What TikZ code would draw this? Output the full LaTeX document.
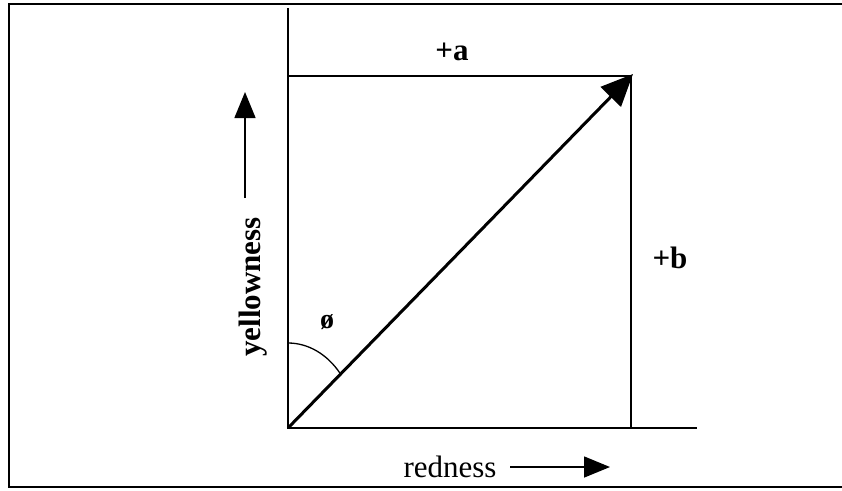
\documentclass[tikz,border=0pt]{standalone}
\usepackage{fontspec}
\setmainfont{Liberation Serif}
\usetikzlibrary{arrows.meta}
\begin{document}
\begin{tikzpicture}[x=1pt,y=-1pt,
  axisline/.style={line width=2.8pt, line join=miter},
  thinline/.style={line width=1.2pt},
  frameline/.style={line width=2.8pt},
  lbl/.style={font=\fontsize{31}{31}\selectfont\bfseries, inner sep=0pt},
  plainlbl/.style={font=\fontsize{31}{31}\selectfont, inner sep=0pt},
  bigtip/.style={-{Triangle[length=32pt,width=28pt]}},
  smalltip/.style={line width=1.5pt, -{Triangle[length=26pt,width=21pt]}}]
\useasboundingbox (0,0) rectangle (842,490);
% frame (no right side)
\draw[frameline] (842,4) -- (9,4) -- (9,487) -- (842,487);
% key points
\coordinate (O) at (288,428);
\coordinate (ytop) at (288,8);
\coordinate (xend) at (697,428);
\coordinate (P) at (633,74);
\coordinate (Ta) at (288,76);
\coordinate (Ca) at (631,76);
\coordinate (Cb) at (631,428);
% thin projection lines
\draw[thinline] (Ta) -- (Ca) -- (Cb);
% axes
\draw[axisline] (ytop) -- (O) -- (xend);
% vector
\draw[line width=3pt, bigtip] (O) -- (P);
% angle arc
\draw[line width=1.3pt] (288,343) arc[start angle=-90, end angle=-40, x radius=68, y radius=85];
% labels
\node[lbl] (a) at (452,52) {+a};
\node[lbl] (b) at (670,258) {+b};
\node[font=\fontsize{28}{28}\selectfont\bfseries, inner sep=0pt] (phi) at (327,322) {ø};
\node[lbl, rotate=90] (yl) at (253,287) {yellowness};
\node[plainlbl] (rl) at (450,467) {redness};
% direction arrows
\coordinate (ya1) at (245,198);
\coordinate (ya2) at (245,92);
\draw[smalltip] (ya1) -- (ya2);
\coordinate (ra1) at (510,467);
\coordinate (ra2) at (610,467);
\draw[smalltip] (ra1) -- (ra2);
\end{tikzpicture}
\end{document}
